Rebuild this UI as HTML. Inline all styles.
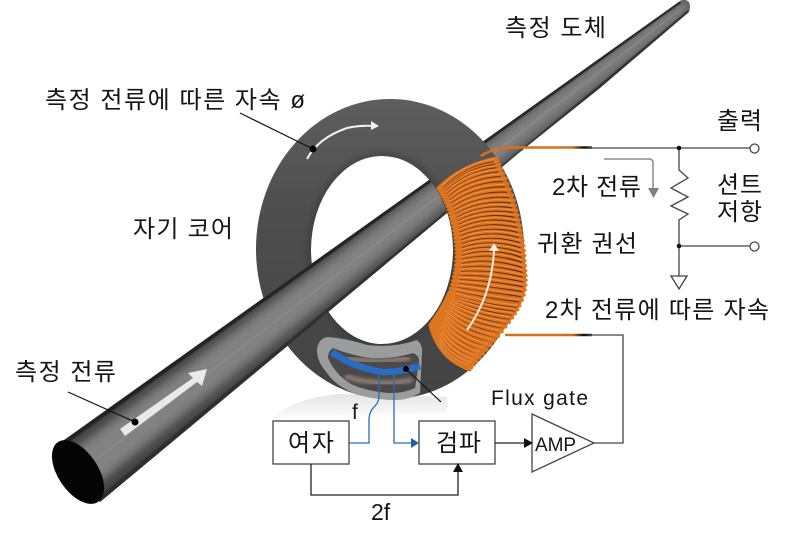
<!DOCTYPE html>
<html lang="ko">
<head>
<meta charset="utf-8">
<title>Flux gate 전류 센서</title>
<style>
html,body{margin:0;padding:0;background:#fff}
svg{display:block}
text{font-family:"Liberation Sans","Noto Sans CJK KR",sans-serif;fill:#151515}
.k{font-size:24px}
</style>
</head>
<body>
<svg xmlns="http://www.w3.org/2000/svg" width="808" height="533" viewBox="0 0 808 533">
<defs>
<clipPath id="cond"><path d="M60,443 L680,1 Q685,-2 689,2 Q691,7 689,12 L600,88 L520,152 L447,213 L100,502 Z"/></clipPath>
<clipPath id="front"><rect x="0" y="0" width="385" height="533"/></clipPath>
<clipPath id="torusClip"><path clip-rule="evenodd" d="M256,249 A134,150 0 1 1 524,249 A134,150 0 1 1 256,249 Z M311,250 A71,94 0 1 0 453,250 A71,94 0 1 0 311,250 Z"/></clipPath>
<clipPath id="cav"><path d="M328,358 Q328,351 333,348 Q350,355 370,358 Q395,359 413,353 Q420,356 419,362 L415,388 Q405,393 390,393 Q370,392 353,385 Q336,376 328,358 Z"/></clipPath>
<filter id="b5" x="-20%" y="-20%" width="140%" height="140%"><feGaussianBlur stdDeviation="5"/></filter>
<filter id="b3" x="-20%" y="-20%" width="140%" height="140%"><feGaussianBlur stdDeviation="3"/></filter>
<filter id="b2" x="-20%" y="-20%" width="140%" height="140%"><feGaussianBlur stdDeviation="1.600"/></filter>
<filter id="b1" x="-20%" y="-20%" width="140%" height="140%"><feGaussianBlur stdDeviation=".6"/></filter>
<linearGradient id="tor" x1="0" y1="0" x2="0" y2="1">
<stop offset="0" stop-color="#5e5e5e"/><stop offset=".35" stop-color="#4f4f4f"/><stop offset="1" stop-color="#424242"/>
</linearGradient>
<linearGradient id="condB" gradientUnits="userSpaceOnUse" x1="60" y1="0" x2="690" y2="0">
<stop offset="0" stop-color="#404040"/><stop offset=".5" stop-color="#4a4a4a"/><stop offset="1" stop-color="#626262"/>
</linearGradient>
<linearGradient id="shad" x1="0" y1="0" x2="0" y2="1">
<stop offset="0" stop-color="#e4e4e4"/><stop offset="1" stop-color="#fbfbfb"/>
</linearGradient>
<linearGradient id="w1" gradientUnits="userSpaceOnUse" x1="560" y1="0" x2="592" y2="0">
<stop offset="0" stop-color="#d9701e"/><stop offset=".4" stop-color="#c96a20"/><stop offset=".75" stop-color="#111"/><stop offset="1" stop-color="#444"/>
</linearGradient>
<linearGradient id="gapG" gradientUnits="userSpaceOnUse" x1="440" y1="0" x2="525" y2="0">
<stop offset="0" stop-color="#b4591c"/><stop offset=".45" stop-color="#7a3d16"/><stop offset="1" stop-color="#3a2010"/>
</linearGradient>
<g id="conductor">
<path d="M60,443 L680,1 Q685,-2 689,2 Q691,7 689,12 L600,88 L520,152 L447,213 L100,502 Z" fill="url(#condB)"/>
<g clip-path="url(#cond)">
<path d="M70,452 L681,2 L688,10 L90,490 Z" fill="#828282" filter="url(#b5)"/>
<path d="M60,443 L680,1 L681,3 L63,446 Z" fill="#222" filter="url(#b1)"/>
<path d="M100,502 L447,213 L520,152 L600,88 L689,12 L688,10 L598,86 L96,499 Z" fill="#2e2e2e" filter="url(#b1)"/>
<path d="M80,472 L685,6" stroke="#969696" stroke-width="1" fill="none" opacity=".6"/>
</g>
</g>
</defs>

<!-- floor shadow -->
<path d="M275,416 Q295,398 340,394 L447,397 L447,413 L275,417 Z" fill="url(#shad)"/>

<!-- conductor behind -->
<use href="#conductor"/>

<!-- core -->
<path fill-rule="evenodd" fill="url(#tor)" d="M256,249 A134,150 0 1 1 524,249 A134,150 0 1 1 256,249 Z M311,250 A71,94 0 1 0 453,250 A71,94 0 1 0 311,250 Z"/>
<g clip-path="url(#torusClip)">
<ellipse cx="382" cy="250" rx="72" ry="95" fill="none" stroke="#2c2c2c" stroke-width="5" opacity=".4" filter="url(#b3)"/>
</g>

<!-- conductor in front -->
<g clip-path="url(#front)"><use href="#conductor"/></g>
<ellipse cx="78" cy="472" rx="36" ry="20" transform="rotate(56 78 472)" fill="#050505"/>

<!-- white current arrow -->
<path d="M120,429 L193,378 L188,373 L207,369 L202,386 L197,382 L125,436 Z" fill="#e9e9e9"/>

<!-- flux window -->
<path d="M317,350 Q318,339 327,337 Q345,338 367,345 Q395,348 417,340 Q423,345 422,353 L420,393 Q408,400 397,400 Q372,400 353,393 Q335,385 327,373 Q317,362 317,350 Z" fill="#9a9c9e"/>
<path d="M328,358 Q328,351 333,348 Q350,355 370,358 Q395,359 413,353 Q420,356 419,362 L415,388 Q405,393 390,393 Q370,392 353,385 Q336,376 328,358 Z" fill="#4a4a4a"/>
<g clip-path="url(#cav)">
<path d="M345,358 Q375,364 410,358" fill="none" stroke="#8a7c72" stroke-width="5" filter="url(#b2)"/>
<path d="M345,376 Q375,387 412,380" fill="none" stroke="#8a7c72" stroke-width="5" filter="url(#b2)"/>
</g>
<path d="M332,352 Q345,361 353,364 Q368,370 383,372 Q402,372 420,366" fill="none" stroke="#2a6cc4" stroke-width="6.500"/>

<!-- coil (windings generated below) -->
<g id="coil"></g>
<script>
(function(){
var inner=[[438,188],[450,215],[456,255],[449,292],[430,325]];
var outer=[[497,158],[515,203],[525,258],[520,306],[470,370]];
function cr(p,t){
  var n=p.length-1,f=Math.min(t*n,n-1e-6),i=Math.floor(f),u=f-i;
  var a=p[Math.max(i-1,0)],b=p[i],c=p[i+1],d=p[Math.min(i+2,n)];
  return [0,1].map(function(k){
    return 0.5*(2*b[k]+(c[k]-a[k])*u+(2*a[k]-5*b[k]+4*c[k]-d[k])*u*u+(3*b[k]-a[k]-3*c[k]+d[k])*u*u*u);
  });
}
/* even spacing along the outer edge */
var cum=[0,.206,.446,.652,1];
function mapT(u){
  for(var i=0;i<4;i++){ if(u<=cum[i+1]) return (i+(u-cum[i])/(cum[i+1]-cum[i]))/4; }
  return 1;
}
var g=document.getElementById('coil'),NS='http://www.w3.org/2000/svg',N=46;
var up=[],low=[];
for(var i=0;i<=40;i++){var a=cr(inner,i/40),b=cr(outer,i/40);up.push(a.join(','));low.unshift(b.join(','));}
var base=document.createElementNS(NS,'polygon');
base.setAttribute('points',up.concat(low).join(' '));
base.setAttribute('fill','#d46c1e');
g.appendChild(base);
function add(d,st,w,dy,cap,op){
  var e=document.createElementNS(NS,'path');
  e.setAttribute('d',d);e.setAttribute('fill','none');e.setAttribute('stroke',st);
  e.setAttribute('stroke-width',w);e.setAttribute('stroke-linecap',cap);
  if(op)e.setAttribute('opacity',op);
  if(dy)e.setAttribute('transform','translate(0,'+dy+')');
  g.appendChild(e);
}
function p(A,c,B){return 'M'+A[0].toFixed(1)+','+A[1].toFixed(1)+' Q'+c[0].toFixed(1)+','+c[1].toFixed(1)+' '+B[0].toFixed(1)+','+B[1].toFixed(1);}
for(var j=N;j>=0;j--){
  var t=mapT(j/N),A=cr(inner,t),B=cr(outer,t);
  var dx=B[0]-A[0],dy=B[1]-A[1],L=Math.sqrt(dx*dx+dy*dy);
  var nx=dy/L,ny=-dx/L;
  var bul=t<0.5?5:5-13*(t-0.5)/0.5;
  var c=[(A[0]+B[0])/2+nx*bul*2,(A[1]+B[1])/2+ny*bul*2];
  /* shadow and highlight stop short of the ends so the outer edge stays scalloped, not spiky */
  var A2=[A[0]+dx/L*6,A[1]+dy/L*6],B2=[B[0]-dx/L*3.5,B[1]-dy/L*3.5];
  add(p(A2,c,B2),'url(#gapG)',1,2,'butt');
  add(p(A,c,B),'#de7620',3,0,'round');
  add(p(A2,c,B2),'#f2a060',0.7,-0.5,'round','.8');
}
})();
</script>

<!-- wires from coil -->
<path d="M481,156 Q492,148 512,147.500 L592,147.500" fill="none" stroke="url(#w1)" stroke-width="2.600"/>
<path d="M505,335 L592,335" fill="none" stroke="url(#w1)" stroke-width="2.600"/>

<!-- curved white arrows -->
<path d="M307,159 Q318,138 347,128 Q360,125 374,126" fill="none" stroke="#f2f2f2" stroke-width="2"/>
<path d="M371,121 L379,126 L371,130 Z" fill="#f2f2f2"/>
<path d="M467,330 Q492,295 494,250" fill="none" stroke="#f6eadf" stroke-width="2"/>
<path d="M489,251 L494,243 L499,251 Z" fill="#f6eadf"/>

<!-- leaders -->
<path d="M240,113 L313,149" stroke="#111" stroke-width="1.200"/>
<circle cx="313" cy="149" r="3.500" fill="#000"/>
<path d="M68,392 L135,422" stroke="#111" stroke-width="1.200"/>
<circle cx="135" cy="422" r="3.500" fill="#000"/>
<path d="M406,369 L441,402" stroke="#111" stroke-width="1.200"/>
<circle cx="406" cy="369" r="3" fill="#000"/>

<!-- output circuit -->
<g fill="none" stroke="#444" stroke-width="1.300">
<path d="M590,148 L750,148"/>
<path d="M679,148 L679,170 L688,178 L671,188 L688,197 L671,206 L688,214 L679,220 L679,276"/>
<path d="M679,246 L750,246"/>
<path d="M671,276 L687,276 L679,289 Z" fill="#fff"/>
<circle cx="754.500" cy="148.500" r="4.500" fill="#fff"/>
<circle cx="754.500" cy="246.500" r="4.500" fill="#fff"/>
<path d="M590,335 L623,335 L623,443 L594,443"/>
</g>
<circle cx="679" cy="148" r="2.300" fill="#111"/>
<circle cx="679" cy="246" r="2.300" fill="#111"/>
<path d="M604,159 L649,159 Q653,159 653,163 L653,190" fill="none" stroke="#888" stroke-width="1.500"/>
<path d="M648,188 L659,188 L653.500,198 Z" fill="#808080"/>

<!-- block diagram -->
<g fill="none" stroke="#444" stroke-width="1.300">
<rect x="273" y="421" width="76" height="43" fill="#fff"/>
<rect x="419" y="421" width="76" height="43" fill="#fff"/>
<path d="M532,414 L594,443 L532,472 Z" fill="#fff"/>
<path d="M495,443 L526,443" stroke="#222"/>
<path d="M311,464 L311,495 L458,495 L458,470" stroke="#222"/>
</g>
<path d="M524,438 L533,443 L524,448 Z" fill="#111"/>
<path d="M453,472 L458,463 L463,472 Z" fill="#111"/>
<g fill="none" stroke="#2a6cb4" stroke-width="1.300">
<path d="M349,443 L369,443 L369,418 Q370,410 375,406 Q379,402 379,396 L379,374"/>
<path d="M394,374 L394,443 L413,443"/>
</g>
<path d="M411,438 L419,443 L411,448 Z" fill="#1e62ae"/>

<!-- labels -->
<text class="k" x="505" y="36" textLength="101" lengthAdjust="spacing">측정 도체</text>
<text class="k" x="45" y="108" textLength="260" lengthAdjust="spacing">측정 전류에 따른 자속 ø</text>
<text class="k" x="133" y="237" textLength="100" lengthAdjust="spacing">자기 코어</text>
<text class="k" x="15" y="380" textLength="101" lengthAdjust="spacing">측정 전류</text>
<text class="k" x="717" y="129" textLength="45" lengthAdjust="spacing">출력</text>
<text class="k" x="552" y="195" textLength="89" lengthAdjust="spacing">2차 전류</text>
<text class="k" x="717" y="193" textLength="45" lengthAdjust="spacing">션트</text>
<text class="k" x="717" y="220" textLength="45" lengthAdjust="spacing">저항</text>
<text class="k" x="537" y="252" textLength="100" lengthAdjust="spacing">귀환 권선</text>
<text class="k" x="545" y="318" textLength="224" lengthAdjust="spacing">2차 전류에 따른 자속</text>
<text x="491" y="405" font-size="21" textLength="97" lengthAdjust="spacing">Flux gate</text>
<text x="352" y="419" font-size="21">f</text>
<text class="k" x="288" y="451" textLength="46" lengthAdjust="spacing">여자</text>
<text class="k" x="436" y="451" textLength="45" lengthAdjust="spacing">검파</text>
<text x="535" y="451" font-size="19" textLength="41" lengthAdjust="spacing">AMP</text>
<text x="371" y="520" font-size="23">2f</text>
</svg>
</body>
</html>
